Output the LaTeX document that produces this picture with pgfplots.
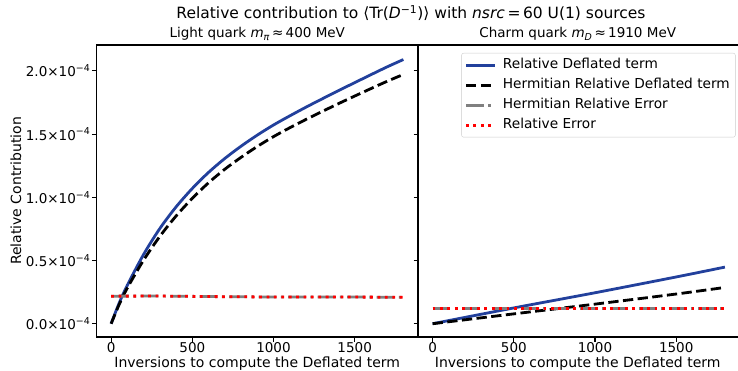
\documentclass[border=0pt]{standalone}
\usepackage{fontspec}
\setmainfont{DejaVu Sans}
\usepackage{pgfplots}
\pgfplotsset{compat=1.18}
\definecolor{dblue}{RGB}{34,64,156}
\definecolor{mgray}{RGB}{128,128,128}
\newcommand{\fs}{\fontsize{13.5bp}{16bp}\selectfont}
\newcommand{\fl}{\fontsize{14bp}{17bp}\selectfont}
\newcommand{\ft}{\fontsize{15.5bp}{18bp}\selectfont}
\newcommand{\tl}[1]{#1×10\textsuperscript{−4}}
\pgfplotstableread{
x v
0 0
50 0.165
100 0.305
200 0.548
300 0.753
400 0.924
500 1.070
600 1.197
700 1.307
800 1.404
900 1.492
1000 1.572
1100 1.644
1200 1.713
1300 1.779
1400 1.844
1500 1.907
1600 1.970
1700 2.032
1800 2.090
}\lightrel
\pgfplotstableread{
x v
0 0
50 0.153
100 0.283
200 0.503
300 0.691
400 0.852
500 0.992
600 1.115
700 1.222
800 1.316
900 1.402
1000 1.480
1100 1.550
1200 1.616
1300 1.679
1400 1.741
1500 1.801
1600 1.860
1700 1.918
1800 1.972
}\lightherm
\pgfplotstableread{
x v
0 0.218
300 0.219
600 0.215
900 0.212
1200 0.211
1500 0.211
1800 0.209
}\lighterr
\pgfplotstableread{
x v
0 0
500 0.125
1000 0.245
1500 0.37
1800 0.448
}\charmrel
\pgfplotstableread{
x v
0 0
500 0.078
1000 0.155
1500 0.235
1800 0.287
}\charmherm
\pgfplotstableread{
x v
0 0.118
600 0.118
1200 0.118
1800 0.118
}\charmerr
\begin{document}
\fs
\begin{tikzpicture}
\pgfplotsset{
  base/.style={
    scale only axis, width=321.5bp, height=292bp,
    xmin=-90, xmax=1890, ymin=-0.105, ymax=2.205,
    xtick={0,500,1000,1500},
    xticklabels={0,500,1000,1500},
    ytick={0,0.5,1,1.5,2},
    tick align=outside, xtick pos=bottom, ytick pos=left,
    major tick length=4.5bp,
    tick style={black, line width=1.1bp},
    axis line style={line width=1.1bp},
    every tick label/.append style={font=\fs},
    yticklabel style={inner sep=1.5bp},
    xticklabel style={inner sep=0.5bp},
    legend image code/.code={\draw[##1] (0bp,0bp) -- (29bp,0bp);},
  },
  relsty/.style={dblue, line width=2.8bp, smooth},
  hermsty/.style={black, line width=2.8bp, dash pattern=on 10.3bp off 4.45bp, smooth},
  herrsty/.style={mgray, line width=2.8bp, dash pattern=on 17.8bp off 4.45bp on 2.8bp off 4.45bp},
  errsty/.style={red, line width=2.8bp, dash pattern=on 2.8bp off 4.6bp},
}
\begin{axis}[base, at={(0,0)}, anchor=south west,
  yticklabels={\tl{0.0},\tl{0.5},\tl{1.0},\tl{1.5},\tl{2.0}},
]
\addplot[relsty] table[x=x,y=v] {\lightrel};
\addplot[hermsty] table[x=x,y=v] {\lightherm};
\addplot[herrsty] table[x=x,y=v] {\lighterr};
\addplot[errsty] table[x=x,y=v] {\lighterr};
\end{axis}
\begin{axis}[base, at={(321.5bp,0)}, anchor=south west,
  yticklabels={},
  legend cell align=left,
  legend style={at={(1,1)}, anchor=north east, xshift=-4bp, yshift=-8bp,
    draw=black!20, rounded corners=2bp, fill=white, fill opacity=0.8, text opacity=1,
    font=\fontsize{13.7bp}{16bp}\selectfont, inner sep=3bp, row sep=2bp,
    /tikz/every odd column/.append style={column sep=4bp},
    nodes={text height=10bp, text depth=3bp, inner sep=2.5bp}},
]
\addplot[relsty] table[x=x,y=v] {\charmrel};
\addlegendentry{Relative Deflated term}
\addplot[hermsty] table[x=x,y=v] {\charmherm};
\addlegendentry{Hermitian Relative Deflated term}
\addplot[herrsty] table[x=x,y=v] {\charmerr};
\addlegendentry{Hermitian Relative Error}
\addplot[errsty] table[x=x,y=v] {\charmerr};
\addlegendentry{Relative Error}
\end{axis}
\node[rotate=90, font=\fl] at (-80.5bp,146bp) {Relative Contribution};
\node[anchor=base, font=\fl] at (160.75bp,-30.5bp) {Inversions to compute the Deflated term};
\node[anchor=base, font=\fl] at (481.25bp,-30.5bp) {Inversions to compute the Deflated term};
\node[anchor=base] at (160.75bp,299bp) {Light quark {\itshape m}\textsubscript{\itshape π}\,≈\,400 MeV};
\node[anchor=base] at (481.25bp,299bp) {Charm quark {\itshape m}\textsubscript{\itshape D}\,≈\,1910 MeV};
\node[anchor=base, font=\ft] at (314.5bp,318.5bp) {Relative contribution to ⟨Tr({\itshape D}\textsuperscript{−1})⟩ with {\itshape nsrc}\,=\,60 U(1) sources};
\pgfresetboundingbox
\path (-96.5bp,-34bp) rectangle (641.5bp,337bp);
\end{tikzpicture}
\end{document}
